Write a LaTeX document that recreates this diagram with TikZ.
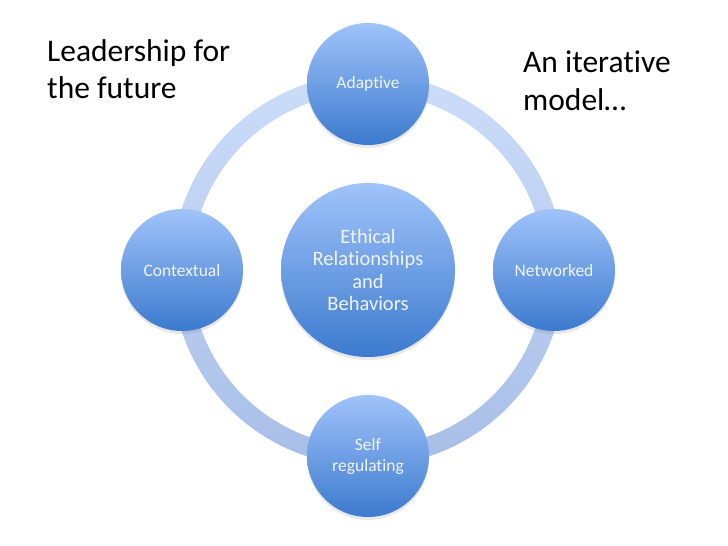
\documentclass[tikz,border=0pt]{standalone}
\usepackage{fontspec}
\setmainfont{Carlito}[RawFeature={-liga;-clig;-calt;-ccmp}]
\usetikzlibrary{shadows}

\definecolor{bolaclara}{RGB}{160,195,250}
\definecolor{bolaoscura}{RGB}{60,122,206}
\definecolor{anilloclaro}{RGB}{204,221,250}
\definecolor{anillooscuro}{RGB}{168,190,230}
\definecolor{textoclaro}{RGB}{240,244,252}

\begin{document}
\begin{tikzpicture}[x=1pt,y=1pt]
		% formatos
		\tikzstyle{every node}=[node distance=186pt]
		\tikzstyle{bola} = [circle, inner sep=0pt, minimum size=122pt, top color=bolaclara, bottom color=bolaoscura, text=textoclaro, align=center, font=\fontsize{17.5}{21}\selectfont, drop shadow={shadow xshift=0pt, shadow yshift=-3pt, opacity=0.18}]
		\tikzstyle{titulo} = [inner sep=0pt, align=left, anchor=north west, font=\fontsize{31.5}{37.5}\selectfont]
		\useasboundingbox (0,0) rectangle (728,-546);
		% anillo
		\coordinate (M) at (368,-270);
		\shade [even odd rule, top color=anilloclaro, bottom color=anillooscuro] (M) circle (196pt) (M) circle (177pt);
		% nodos
		\node [bola, minimum size=174pt, font=\fontsize{20.5}{22.5}\selectfont] (ER) at (M) {Ethical\\Relationships\\and\\Behaviors};
		\node [bola] (AD) [above of=ER] {Adaptive};
		\node [bola] (CO) [left of=ER] {Contextual};
		\node [bola] (NE) [right of=ER] {Networked};
		\node [bola] (SR) [below of=ER] {Self\\regulating};
		% textos
		\node [titulo] (LF) at (47,-39) {Leadership for\\the future};
		\node [titulo] (IM) at (523,-51) {An iterative\\model…};
	\end{tikzpicture}
\end{document}
